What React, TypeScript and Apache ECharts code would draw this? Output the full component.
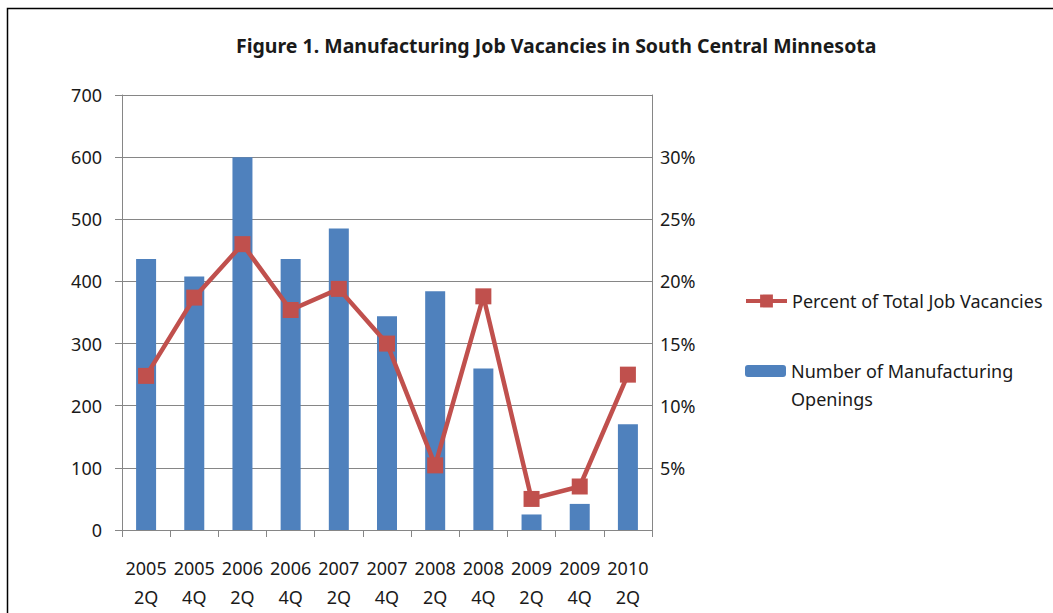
import React, { useEffect, useRef } from "react";
import * as echarts from "echarts";

const years = ["2005", "2005", "2006", "2006", "2007", "2007", "2008", "2008", "2009", "2009", "2010"];
const quarters = ["2Q", "4Q", "2Q", "4Q", "2Q", "4Q", "2Q", "4Q", "2Q", "4Q", "2Q"];
const openings = [436, 408, 600, 436, 485, 344, 384, 260, 25, 42, 170];
const percentVacancies = [12.4, 18.7, 23.0, 17.7, 19.4, 15.0, 5.2, 18.8, 2.5, 3.5, 12.5];
const leftTicks = { min: 0, max: 700, interval: 100 };
const rightTicks = { min: 0, max: 35, interval: 5 };

const TITLE = "Figure 1. Manufacturing Job Vacancies in South Central Minnesota";
const LINE_NAME = "Percent of Total Job Vacancies";
const BAR_NAME = "Number of Manufacturing Openings";

const FONT = "'Noto Sans', 'Open Sans', sans-serif";
const GRAY = "#868686";
const TEXT = "#1a1a1a";

export default function App() {
  const ref = useRef<HTMLDivElement>(null);
  useEffect(() => {
    if (!ref.current) return;
    const chart = echarts.init(ref.current, undefined, { renderer: "svg" });
    const categories = years.map((y, i) => `${y}\n${quarters[i]}`);
    chart.setOption({
      animation: false,
      backgroundColor: "#ffffff",
      textStyle: { fontFamily: FONT },
      title: {
        text: TITLE,
        left: 236,
        top: 35,
        padding: 0,
        textStyle: { fontFamily: FONT, fontSize: 19.5, fontWeight: "bold", color: TEXT },
      },
      graphic: [
        {
          type: "rect",
          silent: true,
          shape: { x: 7.5, y: 8.5, width: 1200, height: 800 },
          style: { fill: "none", stroke: "#000", lineWidth: 1.5 },
        },
      ],
      legend: [
        {
          data: [LINE_NAME],
          left: 744,
          top: 287,
          padding: 0,
          itemWidth: 41,
          itemHeight: 16,
          lineStyle: { width: 4 },
          textStyle: { fontFamily: FONT, fontSize: 18, color: TEXT, lineHeight: 28 },
        },
        {
          data: [BAR_NAME],
          left: 745,
          top: 329,
          padding: 0,
          itemWidth: 41,
          itemHeight: 12,
          formatter: () => "\nNumber of Manufacturing\nOpenings",
          textStyle: { fontFamily: FONT, fontSize: 18, color: TEXT, lineHeight: 28 },
        },
      ],
      grid: { left: 122, right: 401, top: 95, bottom: 83, containLabel: false },
      xAxis: {
        type: "category",
        data: categories,
        boundaryGap: true,
        axisLine: { lineStyle: { color: GRAY, width: 1 } },
        axisTick: { show: true, length: 7, lineStyle: { color: GRAY } },
        axisLabel: { interval: 0, fontFamily: FONT, fontSize: 18, color: TEXT, lineHeight: 29, margin: 23 },
        splitLine: { show: false },
      },
      yAxis: [
        {
          type: "value",
          min: leftTicks.min,
          max: leftTicks.max,
          interval: leftTicks.interval,
          axisLine: { show: true, lineStyle: { color: GRAY, width: 1 } },
          axisTick: { show: true, length: 7, lineStyle: { color: GRAY } },
          axisLabel: { fontFamily: FONT, fontSize: 18, color: TEXT, margin: 20 },
          splitLine: { show: true, lineStyle: { color: GRAY, width: 1 } },
        },
        {
          type: "value",
          position: "right",
          min: rightTicks.min,
          max: rightTicks.max,
          interval: rightTicks.interval,
          axisLine: { show: true, lineStyle: { color: GRAY, width: 1 } },
          axisTick: { show: false },
          axisLabel: {
            fontFamily: FONT,
            fontSize: 18,
            color: TEXT,
            margin: 8,
            formatter: (v: number) => (v <= 0 || v >= rightTicks.max ? "" : `${v}%`),
          },
          splitLine: { show: false },
        },
      ],
      series: [
        {
          name: BAR_NAME,
          type: "bar",
          yAxisIndex: 0,
          data: openings,
          barWidth: 20,
          itemStyle: { color: "#4F81BD" },
        },
        {
          name: LINE_NAME,
          type: "line",
          yAxisIndex: 1,
          data: percentVacancies,
          symbol: "rect",
          symbolSize: 16,
          lineStyle: { color: "#C0504D", width: 4.5 },
          itemStyle: { color: "#C0504D" },
        },
      ],
    });
    return () => chart.dispose();
  }, []);
  return <div ref={ref} style={{ position: "absolute", left: 0, top: 0, width: 1053, height: 613 }} />;
}
